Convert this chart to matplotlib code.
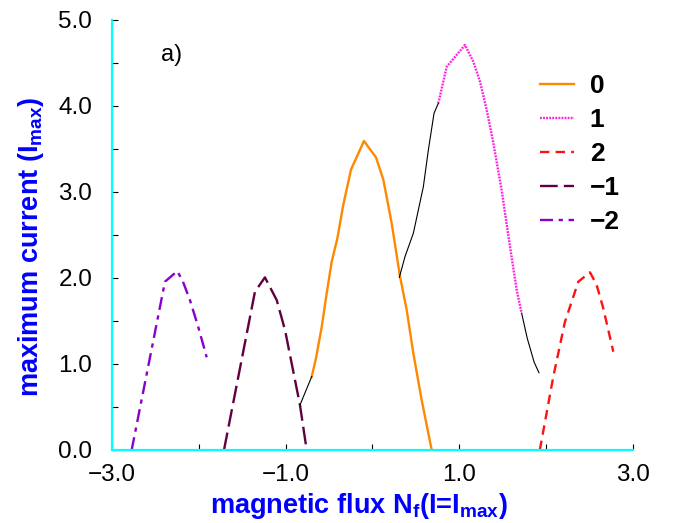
import numpy as np
import matplotlib
matplotlib.use("Agg")
import matplotlib.pyplot as plt
from matplotlib.ticker import MultipleLocator

plt.rcParams['font.family'] = ['Liberation Sans', 'DejaVu Sans']
plt.rcParams['mathtext.fontset'] = 'custom'
plt.rcParams['mathtext.rm'] = 'Liberation Sans:bold'
plt.rcParams['mathtext.bf'] = 'Liberation Sans:bold'

# branch n = 0
x0 = [-0.699, -0.650, -0.584, -0.527, -0.469, -0.404, -0.336, -0.247, -0.098,
      0.040, 0.124, 0.221, 0.317, 0.394, 0.470, 0.566, 0.681]
y0 = [0.853, 1.066, 1.430, 1.820, 2.190, 2.460, 2.850, 3.260, 3.593,
      3.403, 3.147, 2.636, 2.016, 1.628, 1.124, 0.580, 0.0]
# branch n = 1
x1 = [0.757, 0.854, 1.064, 1.160, 1.237, 1.314, 1.390, 1.486, 1.582, 1.659, 1.716]
y1 = [4.030, 4.457, 4.709, 4.515, 4.282, 3.953, 3.570, 3.020, 2.364, 1.860, 1.590]
# branch n = 2
x2 = [1.925, 2.080, 2.214, 2.368, 2.502, 2.579, 2.655, 2.770]
y2 = [0.0, 0.853, 1.490, 1.957, 2.066, 1.919, 1.647, 1.143]
# branch n = -1
xm1 = [-1.708, -1.352, -1.237, -1.102, -1.006, -0.834, -0.757]
ym1 = [0.0, 1.840, 2.007, 1.744, 1.395, 0.523, 0.0]
# branch n = -2
xm2 = [-2.770, -2.387, -2.245, -2.180, -2.100, -2.004, -1.907]
ym2 = [0.0, 1.957, 2.080, 1.957, 1.744, 1.430, 1.078]
# jumps between branches
xj1 = [-0.834, -0.699]
yj1 = [0.523, 0.853]
xj2 = [0.309, 0.374, 0.470, 0.585, 0.643, 0.708, 0.757]
yj2 = [2.008, 2.248, 2.520, 3.060, 3.490, 3.915, 4.030]
xj3 = [1.716, 1.780, 1.860, 1.915]
yj3 = [1.590, 1.300, 1.020, 0.898]

labels = ["0", "1", "2", "\u22121", "\u22122"]
xticks = [-3.0, -1.0, 1.0, 3.0]
xtick_labels = ["\u22123.0", "\u22121.0", "1.0", "3.0"]
yticks = [0.0, 1.0, 2.0, 3.0, 4.0, 5.0]
ytick_labels = ["0.0", "1.0", "2.0", "3.0", "4.0", "5.0"]

fig = plt.figure(figsize=(6.76, 5.23), dpi=100)
ax = fig.add_axes([0.1652, 0.1396, 0.7716, 0.8222])

lw = 1.7
ax.plot(x0, y0, color="#ff8800", lw=lw, ls="-", label=labels[0])
ax.plot(x1, y1, color="#ff22dd", lw=lw, ls=(0, (0.8, 0.5)), label=labels[1])
ax.plot(x2, y2, color="#ff1111", lw=lw, ls=(0, (4.0, 2.6)), label=labels[2])
ax.plot(xm1, ym1, color="#600040", lw=lw, ls=(0, (7.5, 2.6)), label=labels[3])
ax.plot(xm2, ym2, color="#8800cc", lw=lw, ls=(0, (5.5, 2.4, 1.8, 2.4)), label=labels[4])
for xs, ys in [(xj1, yj1), (xj2, yj2), (xj3, yj3)]:
    ax.plot(xs, ys, color="black", lw=0.8)

ax.set_xlim(-3, 3)
ax.set_ylim(0, 5)
ax.set_xticks(xticks)
ax.set_xticklabels(xtick_labels)
ax.set_yticks(yticks)
ax.set_yticklabels(ytick_labels)
ax.xaxis.set_minor_locator(MultipleLocator(1.0))
ax.yaxis.set_minor_locator(MultipleLocator(0.5))
ax.tick_params(which="both", direction="in", length=4, width=0.8, color="black",
               labelsize=17.5)
ax.tick_params(axis="x", pad=10)
ax.tick_params(axis="y", pad=14)

for s in ["top", "right"]:
    ax.spines[s].set_visible(False)
for s in ["left", "bottom"]:
    ax.spines[s].set_color("cyan")
    ax.spines[s].set_linewidth(1.6)

ax.set_xlabel(r"magnetic flux N$_{\mathrm{f}}$(I=I$_{\mathrm{max}}$)",
              color="blue", fontsize=19.5, fontweight="bold")
ax.xaxis.set_label_coords(0.474, -0.095)
ax.set_ylabel(r"maximum current (I$_{\mathrm{max}}$)",
              color="blue", fontsize=19.5, fontweight="bold")
ax.yaxis.set_label_coords(-0.125, 0.472)

ax.text(-2.43, 4.52, "a)", fontsize=17)

leg = ax.legend(loc="upper left", bbox_to_anchor=(0.821, 0.874), frameon=False,
                handlelength=1.29, handletextpad=0.6, labelspacing=0.375,
                prop={"weight": "bold", "size": 19}, borderaxespad=0, borderpad=0)

fig.savefig("out.png", dpi=100)
